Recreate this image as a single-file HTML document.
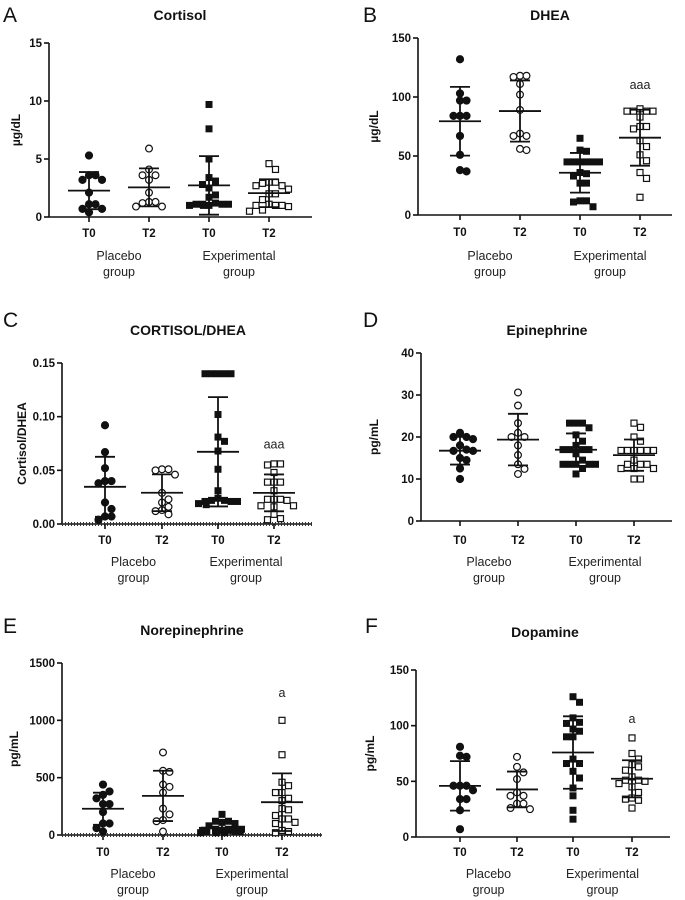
<!DOCTYPE html>
<html><head><meta charset="utf-8">
<style>
html,body{margin:0;padding:0;background:#fff;}
svg{display:block;font-family:"Liberation Sans",Arial,sans-serif;}
</style></head>
<body>
<svg id="fig" width="685" height="900" viewBox="0 0 685 900" xmlns="http://www.w3.org/2000/svg"></svg>
<script>
// ---- data ----
const categories = ["T0","T2","T0","T2"];
const groupNames = ["Placebo","Experimental"];

const cortisolPT0 = [5.3,3.6,3.6,3.2,3.2,2.1,1.1,1.1,0.7,0.7,0.4];
const cortisolPT2 = [5.9,4.1,3.6,3.6,3.2,2.1,1.3,1.3,1.2,0.9,0.9];
const cortisolET0 = [9.7,7.6,5.0,3.4,3.1,2.8,2.5,1.9,1.7,1.2,1.1,1.1,1.1,1.1,1.0,1.0,1.0];
const cortisolET2 = [4.6,4.1,3.0,3.0,2.9,2.7,2.7,2.4,2.0,2.0,1.5,1.1,1.0,1.0,1.0,0.9,0.6,0.5];

const dheaPT0 = [132,103,97,97,84,84,84,67,51,38,37];
const dheaPT2 = [118,117,118,111,102,89,69,67,67,56,55];
const dheaET0 = [65,54,55,45,45,45,45,45,45,36,35,33,27,27,12,12,11,7];
const dheaET2 = [90,88,88,88,88,83,75,75,73,63,58,51,46,36,31,15];

const ratioPT0 = [0.092,0.067,0.052,0.040,0.040,0.038,0.020,0.014,0.007,0.007,0.004];
const ratioPT2 = [0.051,0.050,0.051,0.046,0.029,0.023,0.020,0.016,0.013,0.012,0.009];
const ratioET0 = [0.140,0.140,0.140,0.140,0.140,0.102,0.081,0.077,0.068,0.051,0.031,0.024,0.022,0.022,0.021,0.021,0.021,0.019,0.018];
const ratioET2 = [0.056,0.056,0.055,0.048,0.039,0.039,0.039,0.031,0.023,0.023,0.023,0.022,0.017,0.017,0.016,0.009,0.005,0.004];

const epiPT0 = [21,20,20,19.5,18,17,16.7,16.7,15,14.5,12.5,10];
const epiPT2 = [30.6,27.5,23.3,21,20,20,18,15.7,13.5,12.4,11.2];
const epiET0 = [23.3,23.3,23.3,22.2,20.5,19,18,17,17,17,17,16,14.5,13.5,13.5,13.5,13.5,13.5,12.5,11.2];
const epiET2 = [23.3,22.3,20,19,16.8,16.8,16.8,16.8,16.8,16.8,14.5,13.5,13.5,13.5,12.5,12.5,12.5,10,10];

const norPT0 = [440,380,350,320,270,270,200,100,100,60,30];
const norPT2 = [720,560,550,440,420,370,230,180,130,120,30];
const norET0 = [180,120,120,110,100,80,50,50,50,40,40,30,30,30,20,20,20];
const norET2 = [1000,700,460,430,370,370,320,300,230,220,170,140,140,110,100,40,30,20];

const dopPT0 = [81,73,72,46,46,46,42,34,34,24,7];
const dopPT2 = [72,63,58,52,40,37,37,30,30,26,25];
const dopET0 = [126,121,107,103,102,97,95,90,90,70,66,66,59,53,44,37,24,16];
const dopET2 = [89,75,70,65,63,60,54,51,51,50,48,45,40,35,34,33,26];

const ticksA = [0,5,10,15], tickLabelsA = ["0","5","10","15"];
const ticksB = [0,50,100,150], tickLabelsB = ["0","50","100","150"];
const ticksC = [0,0.05,0.10,0.15], tickLabelsC = ["0.00","0.05","0.10","0.15"];
const ticksD = [0,10,20,30,40], tickLabelsD = ["0","10","20","30","40"];
const ticksE = [0,500,1000,1500], tickLabelsE = ["0","500","1000","1500"];
const ticksF = [0,50,100,150], tickLabelsF = ["0","50","100","150"];

// ---- layout ----
const panels = [
 {id:"a",letter:"A",title:"Cortisol",ylabel:"µg/dL",series:[cortisolPT0,cortisolPT2,cortisolET0,cortisolET2],ticks:ticksA,labels:tickLabelsA,max:15,
  ax:49,yTop:43,y0:217,xEnd:312,cats:[89,149,209,269],titleX:180,titleY:20,letX:3,letY:22,ylX:20,tickY:237,groupY:260,sig:null,dotted:false},
 {id:"b",letter:"B",title:"DHEA",ylabel:"µg/dL",series:[dheaPT0,dheaPT2,dheaET0,dheaET2],ticks:ticksB,labels:tickLabelsB,max:150,
  ax:418,yTop:38,y0:215,xEnd:672,cats:[460,520,580,640],titleX:550,titleY:20,letX:363,letY:22,ylX:378,tickY:236,groupY:260,sig:{t:"aaa",v:110},dotted:false},
 {id:"c",letter:"C",title:"CORTISOL/DHEA",ylabel:"Cortisol/DHEA",series:[ratioPT0,ratioPT2,ratioET0,ratioET2],ticks:ticksC,labels:tickLabelsC,max:0.15,
  ax:62,yTop:363,y0:524,xEnd:312,cats:[105,162,218,274],titleX:188,titleY:335,letX:3,letY:327,ylX:26,tickY:544,groupY:566,sig:{t:"aaa",v:0.074},dotted:true},
 {id:"d",letter:"D",title:"Epinephrine",ylabel:"pg/mL",series:[epiPT0,epiPT2,epiET0,epiET2],ticks:ticksD,labels:tickLabelsD,max:40,
  ax:421,yTop:353,y0:521,xEnd:672,cats:[460,518,576,634],titleX:547,titleY:335,letX:363,letY:327,ylX:378,tickY:544,groupY:566,sig:null,dotted:false},
 {id:"e",letter:"E",title:"Norepinephrine",ylabel:"pg/mL",series:[norPT0,norPT2,norET0,norET2],ticks:ticksE,labels:tickLabelsE,max:1500,
  ax:62,yTop:663,y0:835,xEnd:322,cats:[103,163,222,282],titleX:192,titleY:635,letX:3,letY:633,ylX:18,tickY:856,groupY:878,sig:{t:"a",v:1240},dotted:true},
 {id:"f",letter:"F",title:"Dopamine",ylabel:"pg/mL",series:[dopPT0,dopPT2,dopET0,dopET2],ticks:ticksF,labels:tickLabelsF,max:150,
  ax:416,yTop:670,y0:837,xEnd:670,cats:[460,517,573,632],titleX:545,titleY:637,letX:365,letY:633,ylX:374,tickY:856,groupY:878,sig:{t:"a",v:106},dotted:false}
];

const NS="http://www.w3.org/2000/svg";
const svg=document.getElementById("fig");
function mk(tag,attrs,parent){const e=document.createElementNS(NS,tag);for(const k in attrs)e.setAttribute(k,attrs[k]);(parent||svg).appendChild(e);return e;}
function mean(a){return a.reduce((s,v)=>s+v,0)/a.length;}
function sd(a){const m=mean(a);return Math.sqrt(a.reduce((s,v)=>s+(v-m)*(v-m),0)/(a.length-1));}

panels.forEach(p=>{
  const g=mk("g",{});
  
  
  const yS=v=>p.y0-(v/p.max)*(p.y0-p.yTop);

  const let_=mk("text",{x:p.letX,y:p.letY,"font-size":21,fill:"#111"},g);
  let_.textContent=p.letter;
  
  

  const t=mk("text",{x:p.titleX,y:p.titleY,"font-size":14,"font-weight":"bold","text-anchor":"middle",fill:"#111"},g);
  t.textContent=p.title;
  
  

  const yl=mk("text",{x:p.ylX,y:(p.yTop+p.y0)/2,"font-size":12,"font-weight":"bold","text-anchor":"middle",fill:"#111",transform:`rotate(-90 ${p.ylX} ${(p.yTop+p.y0)/2})`},g);
  yl.textContent=p.ylabel;
  
  

  const ya=mk("line",{x1:p.ax,y1:p.yTop,x2:p.ax,y2:p.y0,stroke:"#111","stroke-width":1.6},g);
  
  
  const xa=mk("line",{x1:p.ax,y1:p.y0,x2:p.xEnd,y2:p.y0,stroke:"#111","stroke-width":1.6},g);
  
  
  if(p.dotted){
    const d=mk("line",{x1:p.ax,y1:p.y0,x2:p.xEnd,y2:p.y0,stroke:"#333","stroke-width":4,"stroke-dasharray":"1 2"},g);
    
    
  }
  p.ticks.forEach((v,i)=>{
    const y=yS(v);
    mk("line",{x1:p.ax-5,y1:y,x2:p.ax,y2:y,stroke:"#111","stroke-width":1.6},g);
    const tl=mk("text",{x:p.ax-7,y:y+4,"font-size":11.5,"font-weight":"bold","text-anchor":"end",fill:"#111"},g);
    tl.textContent=p.labels[i];
    
    
  });
  p.cats.forEach((cx,i)=>{
    mk("line",{x1:cx,y1:p.y0,x2:cx,y2:p.y0+5,stroke:"#111","stroke-width":1.6},g);
    const tl=mk("text",{x:cx,y:p.tickY,"font-size":11.5,"font-weight":"bold","text-anchor":"middle",fill:"#111"},g);
    tl.textContent=categories[i];
    
    
  });
  [0,1].forEach(k=>{
    const cx=(p.cats[2*k]+p.cats[2*k+1])/2;
    const gl=mk("text",{x:cx,y:p.groupY,"font-size":12.5,"text-anchor":"middle",fill:"#222"},g);
    gl.textContent=groupNames[k];
    
    
    const gl2=mk("text",{x:cx,y:p.groupY+16,"font-size":12.5,"text-anchor":"middle",fill:"#222"},g);
    gl2.textContent="group";
    
    
  });

  p.series.forEach((vals,si)=>{
    const cx=p.cats[si];
    const filled=(si%2===0), square=(si>=2);
    const sg=mk("g",{},g);
    
    
    const placed=[];
    const dx=6.5, dy=7, lim=22;
    const sorted=vals.slice().sort((a,b)=>b-a);
    sorted.forEach(v=>{
      const y=yS(v);
      let off=null;
      for(let k=0;k<20;k++){
        const cand=(k===0)?0:((k%2)?1:-1)*Math.ceil(k/2)*dx;
        if(Math.abs(cand)>lim)break;
        if(!placed.some(q=>Math.abs(q.x-cand)<dx-0.3&&Math.abs(q.y-y)<dy)){off=cand;break;}
      }
      if(off===null){off=((placed.length%2)?1:-1)*((placed.length*3.1)%lim);}
      placed.push({x:off,y:y});
      let m;
      if(square){
        m=mk("rect",{x:cx+off-3,y:y-3,width:6,height:6,fill:filled?"#111":"#fff",stroke:"#111","stroke-width":filled?1:1.2},sg);
      }else{
        m=mk("circle",{cx:cx+off,cy:y,r:filled?3.6:3.4,fill:filled?"#111":"#fff",stroke:"#111","stroke-width":filled?1:1.2},sg);
      }
      
      
    });
    const m=mean(vals), s=sd(vals);
    const yM=yS(m), yH=yS(m+s), yL=yS(Math.max(0,m-s));
    const eb=mk("g",{stroke:"#111","stroke-width":1.8,fill:"none"},sg);
    
    
    mk("line",{x1:cx-21,y1:yM,x2:cx+21,y2:yM},eb);
    mk("line",{x1:cx,y1:yH,x2:cx,y2:yL},eb);
    mk("line",{x1:cx-10,y1:yH,x2:cx+10,y2:yH},eb);
    mk("line",{x1:cx-10,y1:yL,x2:cx+10,y2:yL},eb);
  });
  if(p.sig){
    const st=mk("text",{x:p.cats[3],y:yS(p.sig.v)+4,"font-size":12.5,"text-anchor":"middle",fill:"#222"},g);
    st.textContent=p.sig.t;
    
    
  }
});
</script>
</body></html>
